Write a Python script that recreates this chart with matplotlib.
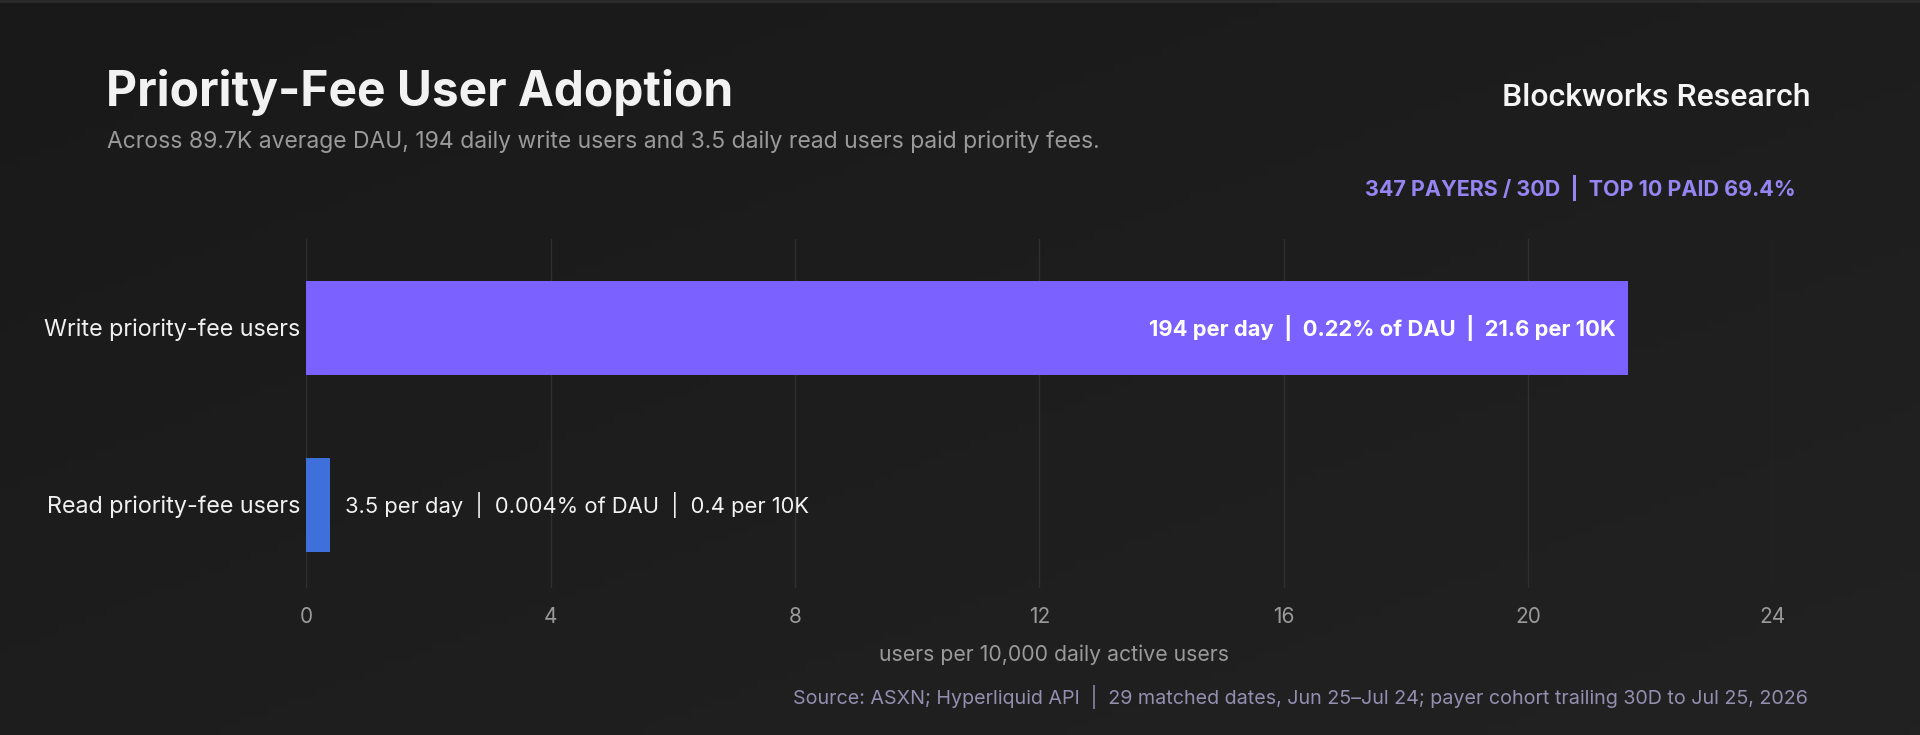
import matplotlib
matplotlib.use("Agg")
import matplotlib.pyplot as plt
import numpy as np

# ---- data ----
categories = ["Read priority-fee users", "Write priority-fee users"]
per_10k = [0.39, 21.63]
per_day = ["3.5", "194"]
pct_dau = ["0.004%", "0.22%"]
per_10k_label = ["0.4", "21.6"]
x_ticks = [0, 4, 8, 12, 16, 20, 24]
bar_colors = ["#3F6FDB", "#7B61FF"]

title = "Priority-Fee User Adoption"
subtitle = "Across 89.7K average DAU, 194 daily write users and 3.5 daily read users paid priority fees."
brand = "Blockworks Research"
kpi = "347 PAYERS / 30D  |  TOP 10 PAID 69.4%"
xlabel = "users per 10,000 daily active users"
source = "Source: ASXN; Hyperliquid API  |  29 matched dates, Jun 25\u2013Jul 24; payer cohort trailing 30D to Jul 25, 2026"

plt.rcParams['font.family'] = ['Inter', 'DejaVu Sans']

W, H = 1920, 735
fig = plt.figure(figsize=(W / 100, H / 100), dpi=100)

# background gradient
bg = fig.add_axes([0, 0, 1, 1], zorder=-10)
gx = np.linspace(0, 1, 200)
gy = np.linspace(0, 1, 80)
GX, GY = np.meshgrid(gx, gy)
g = 0.5 * GX + 0.5 * GY
c0 = np.array([0x19, 0x19, 0x19]) / 255
c1 = np.array([0x22, 0x22, 0x22]) / 255
img = c0[None, None, :] * (1 - g[..., None]) + c1[None, None, :] * g[..., None]
bg.imshow(img, aspect='auto', extent=[0, 1, 0, 1], origin='upper')
bg.axhline(0.999, color="#2c2c2c", lw=2)
bg.set_axis_off()


def fx(x):
    return x / W


def fy(y):
    return 1 - y / H


ax_l, ax_r = 306, 1773
ax_t, ax_b = 239, 588
ax = fig.add_axes([fx(ax_l), fy(ax_b), (ax_r - ax_l) / W, (ax_b - ax_t) / H])
ax.set_facecolor("none")

ypos = np.arange(len(categories))
ax.barh(ypos, per_10k, height=0.53, color=bar_colors, zorder=3)
ax.set_xlim(0, 24)
ax.set_ylim(-0.47, 1.5)
ax.set_xticks(x_ticks)
ax.set_xticklabels([str(t) for t in x_ticks], color="#9a9a9a", fontsize=15)
ax.set_yticks(ypos)
ax.set_yticklabels(categories, color="#f0f0f0", fontsize=16.8)
ax.tick_params(axis='both', length=0)
ax.tick_params(axis='x', pad=14)
ax.tick_params(axis='y', pad=4)
ax.grid(axis='x', color="#2f2f2f", lw=1, zorder=0)
for s in ax.spines.values():
    s.set_visible(False)
ax.set_xlabel(xlabel, color="#9a9a9a", fontsize=15.3)
ax.xaxis.set_label_coords(0.51, -0.162)

# bar labels
for i, v in enumerate(per_10k):
    txt = f"{per_day[i]} per day  |  {pct_dau[i]} of DAU  |  {per_10k_label[i]} per 10K"
    if v > 5:
        ax.text(v - 0.2, ypos[i], txt, ha='right', va='center', color="#ffffff",
                fontsize=15.8, fontweight='bold', zorder=4)
    else:
        ax.text(v + 0.25, ypos[i], txt, ha='left', va='center', color="#f2f2f2",
                fontsize=15.8, zorder=4)

# header texts
fig.text(fx(106), fy(92), title, ha='left', va='center', color="#f2f2f2",
         fontsize=34.5, fontweight='bold')
fig.text(fx(107), fy(142), subtitle, ha='left', va='center', color="#9a9a9a",
         fontsize=16.5)
fig.text(fx(1810), fy(97), brand, ha='right', va='center', color="#f5f5f5",
         fontsize=23, fontweight='medium', family=['Roboto', 'DejaVu Sans'])
fig.text(fx(1796), fy(188), kpi, ha='right', va='center', color="#9485f2",
         fontsize=15.5, fontweight='bold')
fig.text(fx(1808), fy(697), source, ha='right', va='center', color="#948eb0",
         fontsize=14.2)

fig.savefig("out.png", dpi=100, facecolor="#1b1b1b")
